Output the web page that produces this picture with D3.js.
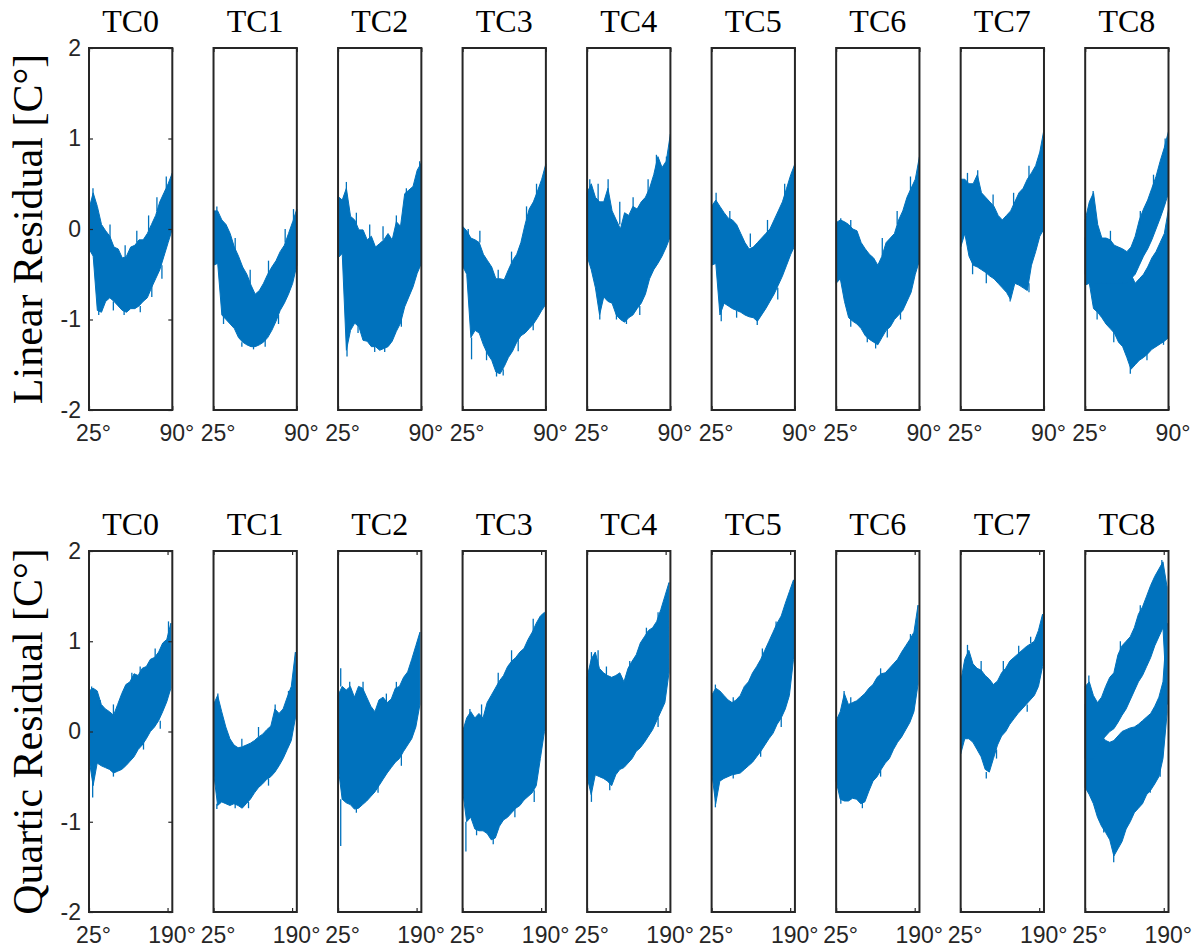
<!DOCTYPE html>
<html>
<head>
<meta charset="utf-8">
<script src="https://cdn.jsdelivr.net/npm/d3@7"></script>
<style>
  body { margin: 0; background: #fff; }
  .tick text { font-family: "Liberation Sans", Arial, sans-serif; }
</style>
</head>
<body>
<div id="chart"></div>
<script>
// ---- data ----
const panelNames = ["TC0", "TC1", "TC2", "TC3", "TC4", "TC5", "TC6", "TC7", "TC8"];
const yTicks = [-2, -1, 0, 1, 2];

// sample angles (deg) where the band envelope was read
const topAngles = [25, 28.25, 31.5, 34.75, 38, 41.25, 44.5, 47.75, 51, 54.25, 57.5,
                   60.75, 64, 67.25, 70.5, 73.75, 77, 80.25, 83.5, 86.75, 90];
const bottomAngles = [25, 33.6, 42.2, 50.8, 59.4, 68, 76.6, 85.2, 93.8, 102.4, 111,
                      119.6, 128.2, 136.8, 145.4, 154, 162.6, 171.2, 179.8, 188.4, 197];

const topTickAngles = [25, 90];
const topTickLabels = ["25°", "90°"];
const bottomTickAngles = [25, 190];
const bottomTickLabels = ["25°", "190°"];

// linear residual: upper / lower envelope of the noisy trace, one row per TC
const linearHi = [
  [0.22, 0.4, 0.25, 0.05, -0.02, -0.08, -0.2, -0.22, -0.32, -0.3, -0.2, -0.18, -0.12, -0.12, -0.05, 0.05, 0.15, 0.3, 0.4, 0.5, 0.62],
  [0.2, 0.2, 0.1, 0.05, -0.05, -0.2, -0.3, -0.42, -0.5, -0.62, -0.72, -0.68, -0.6, -0.5, -0.42, -0.35, -0.25, -0.18, -0.05, 0.08, 0.22],
  [0.36, 0.32, 0.45, 0.14, 0.1, -0.01, -0.01, -0.12, -0.08, -0.2, -0.16, -0.12, -0.05, -0.12, 0.08, 0.03, 0.39, 0.43, 0.47, 0.65, 0.73],
  [0.03, -0.02, -0.1, -0.12, -0.15, -0.28, -0.35, -0.42, -0.55, -0.55, -0.56, -0.45, -0.35, -0.28, -0.15, 0.05, 0.22, 0.3, 0.42, 0.55, 0.72],
  [0.4, 0.5, 0.35, 0.3, 0.3, 0.45, 0.2, 0.1, 0.0, 0.18, 0.15, 0.25, 0.22, 0.3, 0.35, 0.45, 0.6, 0.8, 0.68, 0.75, 1.05],
  [0.25, 0.32, 0.25, 0.18, 0.12, 0.1, 0.05, -0.05, -0.15, -0.22, -0.2, -0.15, -0.1, -0.05, 0.0, 0.1, 0.2, 0.3, 0.45, 0.6, 0.72],
  [0.07, 0.1, 0.08, 0.05, 0.0, -0.02, -0.15, -0.22, -0.28, -0.32, -0.4, -0.3, -0.15, -0.1, -0.05, 0.1, 0.2, 0.35, 0.45, 0.55, 0.8],
  [0.55, 0.55, 0.5, 0.5, 0.6, 0.4, 0.35, 0.3, 0.25, 0.15, 0.1, 0.15, 0.2, 0.3, 0.4, 0.45, 0.55, 0.62, 0.7, 0.85, 1.1],
  [-0.1, 0.1, 0.0, -0.3, -0.35, -0.4, -0.45, -0.5, -0.5, -0.5, -0.5, -0.5, -0.6, -0.55, -0.5, -0.42, -0.32, -0.25, -0.15, -0.05, 0.22]
];
const linearLo = [
  [-0.22, -0.3, -0.9, -0.92, -0.8, -0.76, -0.8, -0.85, -0.9, -0.92, -0.88, -0.88, -0.85, -0.8, -0.76, -0.65, -0.55, -0.45, -0.3, -0.15, 0.0],
  [-0.4, -0.38, -0.95, -1.0, -1.05, -1.1, -1.2, -1.25, -1.28, -1.3, -1.3, -1.28, -1.25, -1.2, -1.12, -1.02, -0.9, -0.82, -0.72, -0.6, -0.4],
  [-0.32, -0.27, -1.34, -1.12, -1.04, -1.08, -1.23, -1.24, -1.3, -1.3, -1.34, -1.32, -1.3, -1.24, -1.13, -1.04, -0.86, -0.75, -0.64, -0.49, -0.38],
  [-0.41, -0.5, -1.2, -1.12, -1.15, -1.28, -1.38, -1.45, -1.58, -1.6, -1.52, -1.42, -1.35, -1.25, -1.18, -1.15, -1.1, -1.05, -0.98, -0.9, -0.83],
  [-0.3, -0.45, -0.65, -0.95, -0.75, -0.8, -0.82, -0.95, -1.0, -1.03, -0.98, -0.95, -0.88, -0.82, -0.72, -0.55, -0.45, -0.38, -0.3, -0.2, -0.08],
  [-0.4, -0.38, -0.95, -0.82, -0.85, -0.88, -0.9, -0.92, -0.95, -0.97, -0.98, -1.02, -0.95, -0.88, -0.8, -0.72, -0.62, -0.52, -0.4, -0.28, -0.18],
  [-0.6, -0.55, -0.8, -0.98, -1.02, -1.05, -1.1, -1.18, -1.22, -1.25, -1.28, -1.2, -1.12, -1.08, -1.0, -0.95, -0.9, -0.8, -0.7, -0.5, -0.35],
  [-0.2, -0.05, -0.3, -0.4, -0.42, -0.45, -0.48, -0.52, -0.55, -0.6, -0.65, -0.7, -0.78, -0.6, -0.62, -0.65, -0.68, -0.4, -0.25, -0.08, 0.0],
  [-0.62, -0.6, -0.88, -0.92, -0.98, -1.05, -1.1, -1.15, -1.25, -1.3, -1.42, -1.55, -1.5, -1.45, -1.42, -1.38, -1.33, -1.3, -1.27, -1.24, -1.2]
];
// TC8 (linear) splits: the upper branch is a second band
const linearTC8BranchHi = [0.1, 0.3, 0.4, 0.05, -0.1, -0.1, -0.12, -0.18, -0.2, -0.22, -0.25, -0.2, -0.08, 0.1, 0.22, 0.32, 0.45, 0.58, 0.75, 0.9, 1.08];
const linearTC8BranchLo = [-0.5, -0.55, -0.6, -0.6, -0.6, -0.6, -0.6, -0.6, -0.6, -0.6, -0.6, -0.55, -0.5, -0.4, -0.3, -0.22, -0.12, 0.0, 0.12, 0.25, 0.4];
// isolated spikes sticking out of the band: [angle, base, tip]
const linearSpikes = [
  [[28.1, 0.3, 0.45], [41.4, -0.1, 0.05], [53.2, -0.3, -0.18], [62.3, -0.15, -0.02], [71.5, -0.02, 0.15], [78, 0.2, 0.35], [85.3, 0.45, 0.58],
   [32.6, -0.85, -0.95], [44, -0.8, -0.9], [52.4, -0.88, -0.95], [65, -0.85, -0.92], [74, -0.62, -0.75], [81.9, -0.4, -0.55]],
  [[27.6, 0.15, 0.25], [41.9, -0.25, -0.1], [53.6, -0.6, -0.45], [67.9, -0.5, -0.35], [80.9, -0.15, 0.0], [87.4, 0.1, 0.22],
   [32.8, -0.95, -1.05], [47.1, -1.25, -1.3], [56.2, -1.28, -1.33], [65.3, -1.2, -1.3], [75.7, -0.95, -1.05]],
  [[31.5, 0.3, 0.52], [39.3, 0.05, 0.18], [49.7, -0.1, 0.05], [60.1, -0.12, 0.03], [70.5, 0.05, 0.15], [78.3, 0.3, 0.45], [88.7, 0.65, 0.75],
   [32, -1.2, -1.41], [40.6, -1.05, -1.15], [53.6, -1.28, -1.36], [61.4, -1.3, -1.36], [74.4, -0.95, -1.08]],
  [[29.4, -0.1, 0.0], [38.5, -0.15, -0.02], [52.8, -0.55, -0.45], [63.2, -0.38, -0.25], [74.9, 0.1, 0.25], [82.7, 0.35, 0.5],
   [32, -1.2, -1.44], [43.7, -1.3, -1.45], [51.5, -1.55, -1.63], [56.7, -1.55, -1.62], [68.4, -1.22, -1.35], [80.1, -1.02, -1.12]],
  [[27.1, 0.35, 0.55], [33.6, 0.3, 0.5], [41.4, 0.3, 0.55], [50.5, 0.05, 0.3], [60.9, 0.2, 0.35], [72.6, 0.35, 0.55], [79.1, 0.55, 0.82], [86.9, 0.7, 0.8],
   [34.9, -0.85, -1.0], [47.9, -0.9, -1.0], [55.7, -0.98, -1.05], [66.1, -0.85, -0.95]],
  [[28.5, 0.25, 0.4], [39.2, 0.1, 0.2], [55.2, -0.2, -0.05], [68.6, -0.05, 0.1], [82, 0.35, 0.5],
   [32.5, -0.9, -1.02], [44.5, -0.9, -0.98], [60.6, -1.0, -1.06], [76.6, -0.65, -0.78]],
  [[28.6, 0.05, 0.12], [36.4, 0.0, 0.1], [61, -0.3, -0.1], [72.6, 0.05, 0.2], [83, 0.42, 0.58],
   [36.4, -0.95, -1.08], [49.3, -1.15, -1.25], [55.8, -1.25, -1.32], [64.9, -1.1, -1.2], [75.2, -0.9, -1.0]],
  [[30.3, 0.5, 0.62], [38.3, 0.5, 0.65], [50.3, 0.25, 0.38], [66.3, 0.25, 0.4], [78.3, 0.55, 0.7],
   [34.3, -0.35, -0.5], [45, -0.45, -0.6], [63.6, -0.7, -0.8], [78.3, -0.6, -0.7]],
  [[31.2, 0.3, 0.42], [44.7, -0.15, -0.02], [68, 0.05, 0.2], [78.3, 0.45, 0.6], [87.4, 0.85, 1.0],
   [34.3, -0.85, -1.0], [47.3, -1.1, -1.25], [60.2, -1.5, -1.6], [73.2, -1.35, -1.45], [86.1, -1.2, -1.28]]
];

// quartic residual
const quarticHi = [
  [0.45, 0.48, 0.45, 0.3, 0.25, 0.22, 0.18, 0.3, 0.42, 0.52, 0.55, 0.64, 0.62, 0.7, 0.72, 0.8, 0.82, 0.88, 0.98, 1.02, 1.2],
  [0.3, 0.4, 0.22, 0.05, -0.08, -0.15, -0.18, -0.17, -0.15, -0.13, -0.1, -0.06, -0.03, 0.02, 0.06, 0.25, 0.2, 0.25, 0.38, 0.5, 0.88],
  [0.4, 0.5, 0.46, 0.5, 0.38, 0.5, 0.48, 0.38, 0.28, 0.22, 0.35, 0.38, 0.32, 0.36, 0.48, 0.5, 0.6, 0.66, 0.8, 0.95, 1.1],
  [0.0, 0.15, 0.22, 0.15, 0.2, 0.15, 0.32, 0.4, 0.48, 0.56, 0.62, 0.72, 0.78, 0.82, 0.88, 0.92, 1.02, 1.1, 1.2, 1.28, 1.32],
  [0.6, 0.8, 0.88, 0.7, 0.65, 0.62, 0.6, 0.62, 0.65, 0.55, 0.7, 0.78, 0.85, 0.98, 1.05, 1.12, 1.15, 1.22, 1.35, 1.5, 1.65],
  [0.4, 0.48, 0.45, 0.4, 0.35, 0.32, 0.35, 0.4, 0.5, 0.55, 0.65, 0.72, 0.8, 0.9, 1.0, 1.1, 1.2, 1.28, 1.42, 1.55, 1.68],
  [0.12, 0.22, 0.42, 0.3, 0.32, 0.34, 0.38, 0.42, 0.48, 0.52, 0.6, 0.64, 0.65, 0.7, 0.75, 0.8, 0.88, 0.95, 1.02, 1.1, 1.4],
  [0.55, 0.8, 0.9, 0.75, 0.7, 0.68, 0.62, 0.58, 0.52, 0.56, 0.65, 0.7, 0.78, 0.82, 0.86, 0.9, 0.94, 0.97, 1.0, 1.12, 1.3],
  [0.3, 0.2, 0.1, 0.0, -0.05, -0.1, -0.12, -0.1, -0.05, 0.0, 0.02, 0.04, 0.05, 0.08, 0.12, 0.16, 0.2, 0.28, 0.38, 0.55, 1.2]
];
const quarticLo = [
  [-0.3, -0.6, -0.35, -0.38, -0.4, -0.42, -0.46, -0.44, -0.42, -0.38, -0.33, -0.28, -0.2, -0.15, -0.08, 0.0, 0.05, 0.12, 0.22, 0.33, 0.48],
  [-0.45, -0.82, -0.78, -0.8, -0.82, -0.8, -0.82, -0.85, -0.8, -0.75, -0.68, -0.62, -0.58, -0.53, -0.5, -0.45, -0.38, -0.3, -0.2, -0.1, 0.15],
  [-0.38, -0.75, -0.79, -0.81, -0.86, -0.85, -0.81, -0.77, -0.72, -0.67, -0.6, -0.53, -0.46, -0.4, -0.34, -0.3, -0.22, -0.15, -0.08, 0.05, 0.3],
  [-0.65, -1.0, -0.95, -1.08, -1.1, -1.1, -1.13, -1.2, -1.18, -1.05, -0.98, -0.95, -0.9, -0.85, -0.82, -0.76, -0.72, -0.68, -0.6, -0.3, 0.0],
  [-0.5, -0.7, -0.48, -0.5, -0.52, -0.55, -0.6, -0.48, -0.42, -0.4, -0.35, -0.3, -0.22, -0.18, -0.12, -0.05, 0.02, 0.12, 0.22, 0.32, 0.65],
  [-0.45, -0.8, -0.55, -0.52, -0.5, -0.48, -0.47, -0.46, -0.42, -0.38, -0.34, -0.28, -0.22, -0.15, -0.08, -0.02, 0.08, 0.15, 0.25, 0.4, 0.8],
  [-0.55, -0.75, -0.77, -0.77, -0.74, -0.75, -0.8, -0.78, -0.66, -0.55, -0.5, -0.42, -0.35, -0.3, -0.2, -0.12, -0.06, 0.02, 0.1, 0.22, 0.52],
  [-0.25, -0.08, -0.08, -0.12, -0.2, -0.28, -0.42, -0.45, -0.3, -0.15, -0.05, 0.0, 0.08, 0.14, 0.2, 0.25, 0.3, 0.35, 0.4, 0.5, 0.72],
  [-0.62, -0.7, -0.8, -0.95, -1.05, -1.12, -1.2, -1.38, -1.3, -1.22, -1.08, -1.0, -0.9, -0.85, -0.8, -0.7, -0.65, -0.58, -0.5, -0.3, 0.2]
];
// TC8 (quartic) upper branch
const quarticTC8BranchHi = [0.5, 0.55, 0.4, 0.32, 0.38, 0.5, 0.6, 0.65, 0.85, 0.95, 1.0, 1.05, 1.15, 1.3, 1.38, 1.5, 1.62, 1.72, 1.8, 1.88, 1.6];
const quarticTC8BranchLo = [-0.3, -0.3, -0.3, -0.2, -0.1, -0.05, 0.0, 0.03, 0.1, 0.18, 0.25, 0.35, 0.45, 0.55, 0.62, 0.72, 0.82, 0.95, 1.05, 1.15, 0.3];
const quarticSpikes = [
  [[30.6, 0.4, 0.5], [48.2, 0.25, 0.35], [76.3, 0.18, 0.3], [115, 0.55, 0.65], [132.5, 0.62, 0.72], [164, 0.8, 0.92], [192, 1.05, 1.22],
   [32.7, -0.5, -0.73], [76.3, -0.45, -0.5], [139.5, -0.12, -0.2], [174.7, 0.12, 0.03]],
  [[34.1, 0.3, 0.42], [84.5, -0.17, -0.08], [119.5, -0.06, 0.05], [154.5, 0.15, 0.3], [182.5, 0.35, 0.45],
   [32, -0.8, -0.86], [70.5, -0.8, -0.85], [98.5, -0.78, -0.85], [140.5, -0.52, -0.6]],
  [[30.6, 0.5, 0.7], [49.5, 0.45, 0.55], [77.5, 0.45, 0.55], [126.5, 0.3, 0.42], [147.5, 0.45, 0.55],
   [30.6, -0.75, -1.27], [63.5, -0.85, -0.9], [109, -0.58, -0.68], [158, -0.25, -0.38]],
  [[40.4, 0.15, 0.25], [64.9, 0.15, 0.3], [99.9, 0.5, 0.65], [127.9, 0.75, 0.9], [173.4, 1.12, 1.25],
   [32, -1.0, -1.33], [54.4, -1.05, -1.15], [89.4, -1.18, -1.25], [134.9, -0.85, -0.95], [175.5, -0.65, -0.78]],
  [[34.1, 0.75, 0.88], [48.1, 0.75, 0.9], [65.6, 0.6, 0.72], [114.6, 0.65, 0.78], [149.6, 1.05, 1.15], [174.1, 1.2, 1.32],
   [34.1, -0.6, -0.78], [72.6, -0.55, -0.65], [174.1, 0.15, 0.05]],
  [[32.9, 0.45, 0.52], [70.4, 0.3, 0.38], [131.6, 0.82, 0.92], [160.4, 1.12, 1.22],
   [32.9, -0.55, -0.84], [70.4, -0.45, -0.52], [128, -0.2, -0.28], [171.2, 0.15, 0.05]],
  [[41.7, 0.35, 0.45], [55.7, 0.3, 0.38], [118.4, 0.6, 0.7], [181.1, 1.0, 1.08],
   [34.8, -0.7, -0.8], [80.1, -0.75, -0.85], [118.4, -0.4, -0.5]],
  [[39.3, 0.8, 0.96], [68, 0.65, 0.78], [114.6, 0.65, 0.78], [146.9, 0.85, 0.95], [172, 0.98, 1.05],
   [78.8, -0.45, -0.52], [100.3, -0.2, -0.3], [164.8, 0.3, 0.22]],
  [[32.7, 0.5, 0.62], [98.9, 0.9, 1.0], [140.7, 1.28, 1.4], [186, 1.75, 1.9],
   [64, -1.05, -1.12], [84.9, -1.3, -1.45], [161.6, -0.62, -0.68], [182.5, -0.35, -0.5]]
];

// ---- layout ----
const W = 1203, H = 951;
const blue = "#0072BD", axisColor = "#262626";

const svg = d3.select("#chart").append("svg")
    .attr("width", W)
    .attr("height", H);

const panelX = d3.scaleBand()
    .domain(panelNames)
    .range([89, 1168.5])
    .paddingInner(0.331)
    .paddingOuter(0);

const rows = [
    {top: 48, bottom: 410, angles: topAngles, hi: linearHi, lo: linearLo,
     branchHi: linearTC8BranchHi, branchLo: linearTC8BranchLo, spikes: linearSpikes,
     xDomain: [25, 90], tickAngles: topTickAngles, tickLabels: topTickLabels,
     ylabel: "Linear Residual [C°]"},
    {top: 551, bottom: 912, angles: bottomAngles, hi: quarticHi, lo: quarticLo,
     branchHi: quarticTC8BranchHi, branchLo: quarticTC8BranchLo, spikes: quarticSpikes,
     xDomain: [25, 200], tickAngles: bottomTickAngles, tickLabels: bottomTickLabels,
     ylabel: "Quartic Residual [C°]"}
];

rows.forEach(function (row) {
    const w = panelX.bandwidth();
    const h = row.bottom - row.top;

    const x = d3.scaleLinear().domain(row.xDomain).range([0, w]);
    const y = d3.scaleLinear().domain([-2, 2]).range([h, 0]);

    // y label
    svg.append("text")
        .attr("transform", "translate(42," + (row.top + h / 2) + ") rotate(-90)")
        .attr("text-anchor", "middle")
        .style("font-family", "'Liberation Serif', 'Times New Roman', serif")
        .style("font-size", "42px")
        .style("fill", "#000")
        .text(row.ylabel);

    panelNames.forEach(function (name, p) {
        const g = svg.append("g")
            .attr("transform", "translate(" + panelX(name) + "," + row.top + ")");

        const bands = [{hi: row.hi[p], lo: row.lo[p]}];
        if (name === "TC8") bands.push({hi: row.branchHi, lo: row.branchLo});

        const area = d3.area()
            .x(function (d) { return x(d.a); })
            .y0(function (d) { return y(d.lo); })
            .y1(function (d) { return y(d.hi); });

        bands.forEach(function (b) {
            const pts = row.angles.map(function (a, i) {
                return {a: a, hi: b.hi[i], lo: b.lo[i]};
            });
            g.append("path")
                .datum(pts)
                .attr("d", area)
                .attr("fill", blue)
                .attr("stroke", blue)
                .attr("stroke-width", 1)
                .attr("stroke-linejoin", "miter");
        });

        // spikes
        g.selectAll(".spike")
            .data(row.spikes[p])
            .enter().append("line")
            .attr("class", "spike")
            .attr("x1", function (d) { return x(d[0]); })
            .attr("x2", function (d) { return x(d[0]); })
            .attr("y1", function (d) { return y(d[1]); })
            .attr("y2", function (d) { return y(d[2]); })
            .attr("stroke", blue)
            .attr("stroke-width", 1.3);

        // x axis (ticks point inward, labels below)
        const xAxis = d3.axisBottom(x)
            .tickValues(row.tickAngles)
            .tickSize(-4)
            .tickPadding(15)
            .tickFormat(function (d, i) { return row.tickLabels[i]; });

        const gx = g.append("g")
            .attr("transform", "translate(0," + h + ")")
            .call(xAxis);
        gx.select(".domain").remove();
        gx.selectAll("line").attr("stroke", axisColor).attr("stroke-width", 1.2);
        gx.selectAll("text")
            .attr("dx", 4)
            .style("font-size", "23px")
            .style("fill", axisColor);

        // mirrored x ticks on top
        const gxt = g.append("g")
            .call(d3.axisTop(x).tickValues(row.tickAngles).tickSize(-4).tickFormat(""));
        gxt.select(".domain").remove();
        gxt.selectAll("line").attr("stroke", axisColor).attr("stroke-width", 1.2);

        if (p === 0) {
            const gy = g.append("g")
                .call(d3.axisLeft(y).tickValues(yTicks).tickSize(-4).tickPadding(8)
                    .tickFormat(d3.format("d")));
            gy.select(".domain").remove();
            gy.selectAll("line").attr("stroke", axisColor).attr("stroke-width", 1.2);
            gy.selectAll("text")
                .style("font-size", "23px")
                .style("fill", axisColor)
                .text(function (d) { return String(d).replace("−", "-"); });

            const gyr = g.append("g")
                .attr("transform", "translate(" + w + ",0)")
                .call(d3.axisRight(y).tickValues(yTicks).tickSize(-4).tickFormat(""));
            gyr.select(".domain").remove();
            gyr.selectAll("line").attr("stroke", axisColor).attr("stroke-width", 1.2);
        }

        // box
        g.append("rect")
            .attr("width", w)
            .attr("height", h)
            .attr("fill", "none")
            .attr("stroke", axisColor)
            .attr("stroke-width", 2);

        // title
        g.append("text")
            .attr("x", w / 2)
            .attr("y", -16)
            .attr("text-anchor", "middle")
            .style("font-family", "'Liberation Serif', 'Times New Roman', serif")
            .style("font-size", "32px")
            .style("fill", "#000")
            .text(name);
    });
});
</script>
</body>
</html>
